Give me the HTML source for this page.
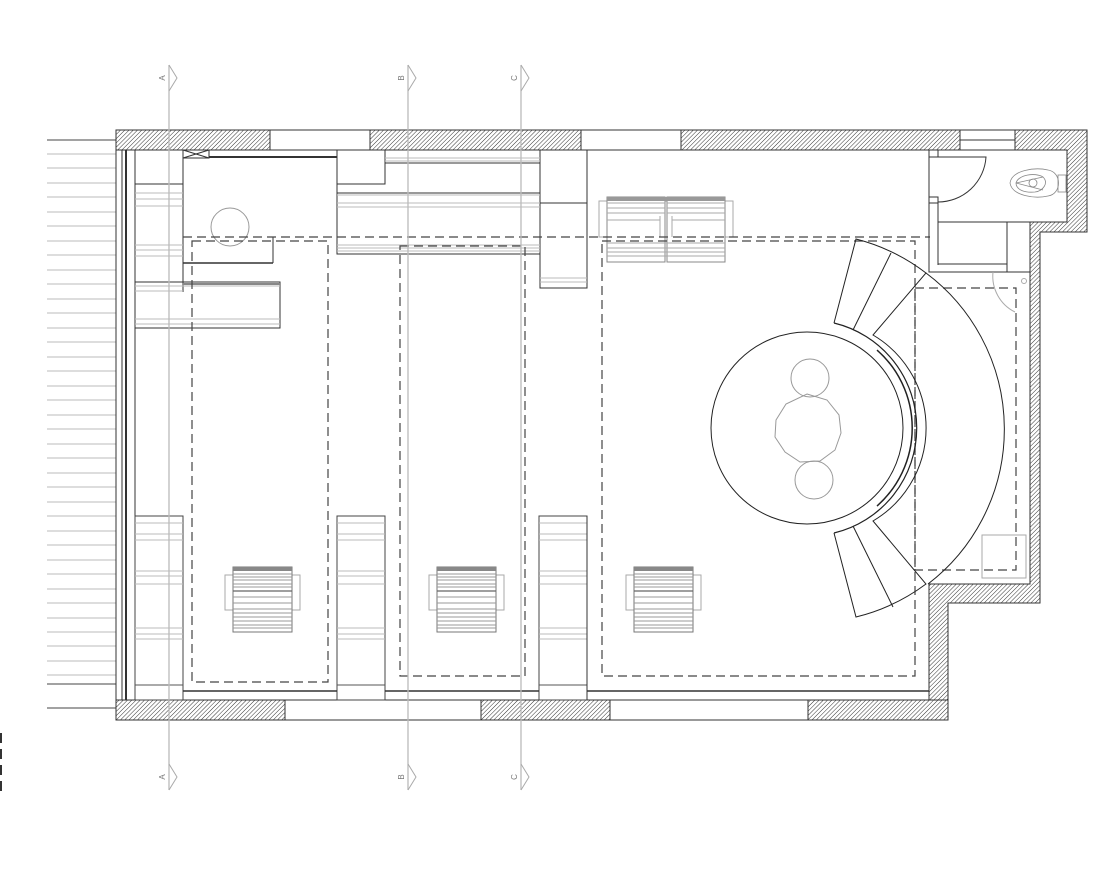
<!DOCTYPE html>
<html><head><meta charset="utf-8"><style>html,body{margin:0;padding:0;background:#fff}svg{display:block}</style></head>
<body>
<svg width="1100" height="880" viewBox="0 0 1100 880" xmlns="http://www.w3.org/2000/svg" font-family="Liberation Sans, sans-serif">
<defs>
<pattern id="h" width="3" height="3" patternUnits="userSpaceOnUse" patternTransform="rotate(45)">
<rect width="3" height="3" fill="#fff"/><line x1="0" y1="0" x2="0" y2="3" stroke="#333" stroke-width="1"/>
</pattern>
<g id="chair">
<rect x="-8" y="8" width="75" height="35" fill="none" stroke="#aaa" stroke-width="1"/>
<rect x="0" y="0" width="59" height="65" fill="#fff" stroke="#777" stroke-width="1"/>
<rect x="0" y="0" width="59" height="4" fill="#888"/>
<g stroke="#999" stroke-width="1">
<line x1="0" y1="7" x2="59" y2="7"/><line x1="0" y1="10" x2="59" y2="10"/><line x1="0" y1="13" x2="59" y2="13"/><line x1="0" y1="17" x2="59" y2="17"/><line x1="0" y1="20" x2="59" y2="20"/><line x1="0" y1="24" x2="59" y2="24"/><line x1="0" y1="30" x2="59" y2="30"/><line x1="0" y1="36" x2="59" y2="36"/><line x1="0" y1="42" x2="59" y2="42"/><line x1="0" y1="46" x2="59" y2="46"/><line x1="0" y1="50" x2="59" y2="50"/><line x1="0" y1="54" x2="59" y2="54"/><line x1="0" y1="58" x2="59" y2="58"/><line x1="0" y1="61" x2="59" y2="61"/>
</g>
<line x1="0" y1="24" x2="59" y2="24" stroke="#666" stroke-width="1.3"/>
</g>
<g id="cab">
<rect x="0" y="0" width="48" height="184" fill="#fff" stroke="#444" stroke-width="1"/>
<g stroke="#bbb" stroke-width="1">
<line x1="0" y1="7" x2="48" y2="7"/><line x1="0" y1="18" x2="48" y2="18"/><line x1="0" y1="24" x2="48" y2="24"/>
<line x1="0" y1="55" x2="48" y2="55"/><line x1="0" y1="60" x2="48" y2="60"/><line x1="0" y1="68" x2="48" y2="68"/>
<line x1="0" y1="112" x2="48" y2="112"/><line x1="0" y1="118" x2="48" y2="118"/><line x1="0" y1="123" x2="48" y2="123"/>
</g>
<line x1="0" y1="169" x2="48" y2="169" stroke="#555"/>
</g>
</defs>

<g stroke="#bbb" stroke-width="1">
<line x1="47" y1="140" x2="116" y2="140"/><line x1="47" y1="154" x2="116" y2="154"/><line x1="47" y1="168" x2="116" y2="168"/><line x1="47" y1="183" x2="116" y2="183"/><line x1="47" y1="197" x2="116" y2="197"/><line x1="47" y1="212" x2="116" y2="212"/><line x1="47" y1="226" x2="116" y2="226"/><line x1="47" y1="241" x2="116" y2="241"/><line x1="47" y1="255" x2="116" y2="255"/><line x1="47" y1="270" x2="116" y2="270"/><line x1="47" y1="284" x2="116" y2="284"/><line x1="47" y1="299" x2="116" y2="299"/><line x1="47" y1="313" x2="116" y2="313"/><line x1="47" y1="328" x2="116" y2="328"/><line x1="47" y1="342" x2="116" y2="342"/><line x1="47" y1="357" x2="116" y2="357"/><line x1="47" y1="371" x2="116" y2="371"/><line x1="47" y1="386" x2="116" y2="386"/><line x1="47" y1="400" x2="116" y2="400"/><line x1="47" y1="415" x2="116" y2="415"/><line x1="47" y1="429" x2="116" y2="429"/><line x1="47" y1="444" x2="116" y2="444"/><line x1="47" y1="458" x2="116" y2="458"/><line x1="47" y1="473" x2="116" y2="473"/><line x1="47" y1="487" x2="116" y2="487"/><line x1="47" y1="502" x2="116" y2="502"/><line x1="47" y1="516" x2="116" y2="516"/><line x1="47" y1="531" x2="116" y2="531"/><line x1="47" y1="545" x2="116" y2="545"/><line x1="47" y1="560" x2="116" y2="560"/><line x1="47" y1="574" x2="116" y2="574"/><line x1="47" y1="589" x2="116" y2="589"/><line x1="47" y1="603" x2="116" y2="603"/><line x1="47" y1="618" x2="116" y2="618"/><line x1="47" y1="632" x2="116" y2="632"/><line x1="47" y1="646" x2="116" y2="646"/><line x1="47" y1="661" x2="116" y2="661"/><line x1="47" y1="675" x2="116" y2="675"/>
</g>
<line x1="47" y1="140" x2="116" y2="140" stroke="#444"/>
<line x1="47" y1="684" x2="116" y2="684" stroke="#444"/>
<line x1="47" y1="708" x2="116" y2="708" stroke="#444"/>
<line x1="1" y1="733" x2="1" y2="797" stroke="#333" stroke-width="2" stroke-dasharray="10,6"/>

<g stroke="#333" stroke-width="1">
<rect x="116" y="130" width="154" height="20" fill="url(#h)"/>
<rect x="270" y="130" width="100" height="20" fill="#fff"/>
<rect x="370" y="130" width="211" height="20" fill="url(#h)"/>
<rect x="581" y="130" width="100" height="20" fill="#fff"/>
<rect x="681" y="130" width="279" height="20" fill="url(#h)"/>
<rect x="960" y="130" width="55" height="20" fill="#fff"/>
<line x1="960" y1="140" x2="1015" y2="140"/>
<path d="M1015 130 H1087 V232 H1040 V603 H948 V720 H929 V584 H1030 V222 H1067 V150 H1015 Z" fill="url(#h)"/>
<rect x="116" y="700" width="169" height="20" fill="url(#h)"/>
<rect x="285" y="700" width="196" height="20" fill="#fff"/>
<rect x="481" y="700" width="129" height="20" fill="url(#h)"/>
<rect x="610" y="700" width="198" height="20" fill="#fff"/>
<rect x="808" y="700" width="140" height="20" fill="url(#h)"/>
<line x1="116" y1="130" x2="116" y2="720"/>
<line x1="122" y1="150" x2="122" y2="700"/>
<line x1="126" y1="150" x2="126" y2="700" stroke-width="2"/>
<line x1="135" y1="150" x2="135" y2="700"/>
</g>

<g stroke="#333" stroke-width="1" fill="none">
<line x1="135" y1="184" x2="183" y2="184"/>
<line x1="183" y1="150" x2="183" y2="292"/>
<rect x="183" y="150" width="26" height="8"/>
<line x1="183" y1="150" x2="209" y2="158"/><line x1="209" y1="150" x2="183" y2="158"/>
<line x1="209" y1="157" x2="337" y2="157" stroke-width="2"/>
<line x1="337" y1="150" x2="337" y2="254"/>
<polyline points="337,184 385,184 385,150"/>
<rect x="337" y="193" width="203" height="61"/>
<line x1="385" y1="163" x2="540" y2="163"/>
<rect x="540" y="150" width="47" height="138"/>
<line x1="540" y1="203" x2="587" y2="203"/>
<line x1="183" y1="263" x2="273" y2="263" stroke-width="1.6"/>
<line x1="273" y1="237" x2="273" y2="263"/>
<rect x="135" y="282" width="145" height="46"/>
</g>
<g stroke="#bbb" stroke-width="1">
<line x1="135" y1="193" x2="183" y2="193"/><line x1="135" y1="199" x2="183" y2="199"/><line x1="135" y1="206" x2="183" y2="206"/>
<line x1="135" y1="245" x2="183" y2="245"/><line x1="135" y1="250" x2="183" y2="250"/><line x1="135" y1="256" x2="183" y2="256"/>
<line x1="135" y1="286" x2="280" y2="286"/><line x1="135" y1="291" x2="183" y2="291"/><line x1="135" y1="319" x2="280" y2="319"/><line x1="135" y1="324" x2="280" y2="324"/>
<line x1="385" y1="158" x2="540" y2="158"/><line x1="385" y1="161" x2="540" y2="161"/>
<line x1="337" y1="195" x2="540" y2="195"/><line x1="337" y1="203" x2="540" y2="203"/><line x1="337" y1="207" x2="540" y2="207"/>
<line x1="337" y1="245" x2="540" y2="245"/><line x1="337" y1="248" x2="540" y2="248"/><line x1="337" y1="251" x2="540" y2="251"/>
<line x1="540" y1="278" x2="587" y2="278"/><line x1="540" y1="282" x2="587" y2="282"/>
</g>
<line x1="183" y1="284" x2="280" y2="284" stroke="#888" stroke-width="2"/>
<circle cx="230" cy="227" r="19" fill="none" stroke="#999"/>

<use href="#cab" x="135" y="516"/>
<use href="#cab" x="337" y="516"/>
<use href="#cab" x="539" y="516"/>
<line x1="183" y1="691" x2="337" y2="691" stroke="#333" stroke-width="1.6"/>
<line x1="385" y1="691" x2="539" y2="691" stroke="#333" stroke-width="1.6"/>
<line x1="587" y1="691" x2="929" y2="691" stroke="#333" stroke-width="1.6"/>
<line x1="587" y1="516" x2="587" y2="700" stroke="#333"/>

<use href="#chair" x="233" y="567"/>
<use href="#chair" x="437" y="567"/>
<use href="#chair" x="634" y="567"/>

<rect x="599" y="201" width="134" height="36" fill="none" stroke="#aaa"/>
<g fill="#fff" stroke="#888">
<rect x="607" y="197" width="58" height="65"/><rect x="667" y="197" width="58" height="65"/>
</g>
<g stroke="#aaa">
<line x1="607" y1="203" x2="665" y2="203"/><line x1="667" y1="203" x2="725" y2="203"/>
<line x1="607" y1="208" x2="665" y2="208"/><line x1="667" y1="208" x2="725" y2="208"/>
<line x1="607" y1="213" x2="665" y2="213"/><line x1="667" y1="213" x2="725" y2="213"/>
<line x1="607" y1="220" x2="660" y2="220"/><line x1="672" y1="220" x2="725" y2="220"/>
<line x1="660" y1="216" x2="660" y2="237"/><line x1="672" y1="216" x2="672" y2="237"/>
<line x1="607" y1="243" x2="725" y2="243"/><line x1="607" y1="248" x2="725" y2="248"/><line x1="607" y1="252" x2="725" y2="252"/><line x1="607" y1="256" x2="725" y2="256"/>
</g>
<rect x="607" y="197" width="118" height="4" fill="#999"/>

<g fill="none" stroke="#444" stroke-width="1.2" stroke-dasharray="9,5">
<line x1="183" y1="237" x2="930" y2="237"/>
<rect x="192" y="241" width="136" height="441"/>
<rect x="400" y="246" width="125" height="430"/>
<rect x="602" y="241" width="313" height="435"/>
<rect x="915" y="288" width="101" height="282"/>
</g>

<g stroke="#333" fill="none" stroke-width="1">
<polyline points="929,150 929,272 1030,272"/>
<line x1="938" y1="150" x2="938" y2="157"/>
<polyline points="929,157 938,157"/>
<line x1="938" y1="203" x2="938" y2="265"/>
<rect x="929" y="197" width="9" height="6"/>
<path d="M938 157 H986 A48 48 0 0 1 938 202"/>
<line x1="938" y1="222" x2="1030" y2="222"/>
<rect x="938" y="222" width="69" height="42"/>
<line x1="1007" y1="222" x2="1007" y2="272"/>
</g>
<g stroke="#888" fill="none" stroke-width="0.8">
<path d="M1010 183 C1012 170 1035 167 1048 170 C1062 172 1062 194 1048 196 C1035 199 1012 196 1010 183 Z"/>
<path d="M1016 183 C1018 175 1035 172 1043 177 C1049 183 1043 191 1035 192 C1025 193 1016 190 1016 183 Z"/>
<circle cx="1033" cy="183" r="4"/>
<line x1="1016" y1="183" x2="1043" y2="177"/><line x1="1016" y1="183" x2="1043" y2="190"/>
<rect x="1058" y="175" width="8" height="17"/>
</g>
<g stroke="#aaa" fill="none">
<path d="M1015 312 A40 40 0 0 1 993 272"/>
<circle cx="1024" cy="281" r="2.5"/>
<rect x="982" y="535" width="44" height="43"/>
</g>

<g stroke="#222" fill="none" stroke-width="1">
<circle cx="807" cy="428" r="96"/>
<path d="M926 273 A195 195 0 0 1 928 584"/>
<path d="M834 323 L856 239 A195 195 0 0 1 926 273 L873 335 A108 108 0 0 1 873 521 L926 584 A195 195 0 0 1 856 617 L834 533"/>
<path d="M834 323 A108 108 0 0 1 834 533" stroke-width="1.2"/>
<path d="M877 350 A104 104 0 0 1 877 506" stroke-width="1.5"/>
<line x1="853" y1="330" x2="891" y2="253"/>
<line x1="853" y1="526" x2="893" y2="607"/>
</g>
<g stroke="#999" fill="none">
<circle cx="810" cy="378" r="19"/>
<polygon points="807,394 827,400 839,415 841,433 835,450 820,461 800,462 785,452 775,437 776,420 786,404"/>
<circle cx="814" cy="480" r="19"/>
</g>

<g stroke="#bbb" stroke-width="1.3">
<line x1="169" y1="65" x2="169" y2="790"/>
<line x1="408" y1="65" x2="408" y2="790"/>
<line x1="521" y1="65" x2="521" y2="790"/>
</g>
<g stroke="#aaa" fill="none">
<polyline points="169,65 177,78 169,91"/><polyline points="408,65 416,78 408,91"/><polyline points="521,65 529,78 521,91"/>
<polyline points="169,764 177,777 169,790"/><polyline points="408,764 416,777 408,790"/><polyline points="521,764 529,777 521,790"/>
</g>
<g font-size="8" fill="#777" text-anchor="middle">
<text transform="translate(165,78) rotate(-90)">A</text>
<text transform="translate(404,78) rotate(-90)">B</text>
<text transform="translate(517,78) rotate(-90)">C</text>
<text transform="translate(165,777) rotate(-90)">A</text>
<text transform="translate(404,777) rotate(-90)">B</text>
<text transform="translate(517,777) rotate(-90)">C</text>
</g>
</svg>
</body></html>
